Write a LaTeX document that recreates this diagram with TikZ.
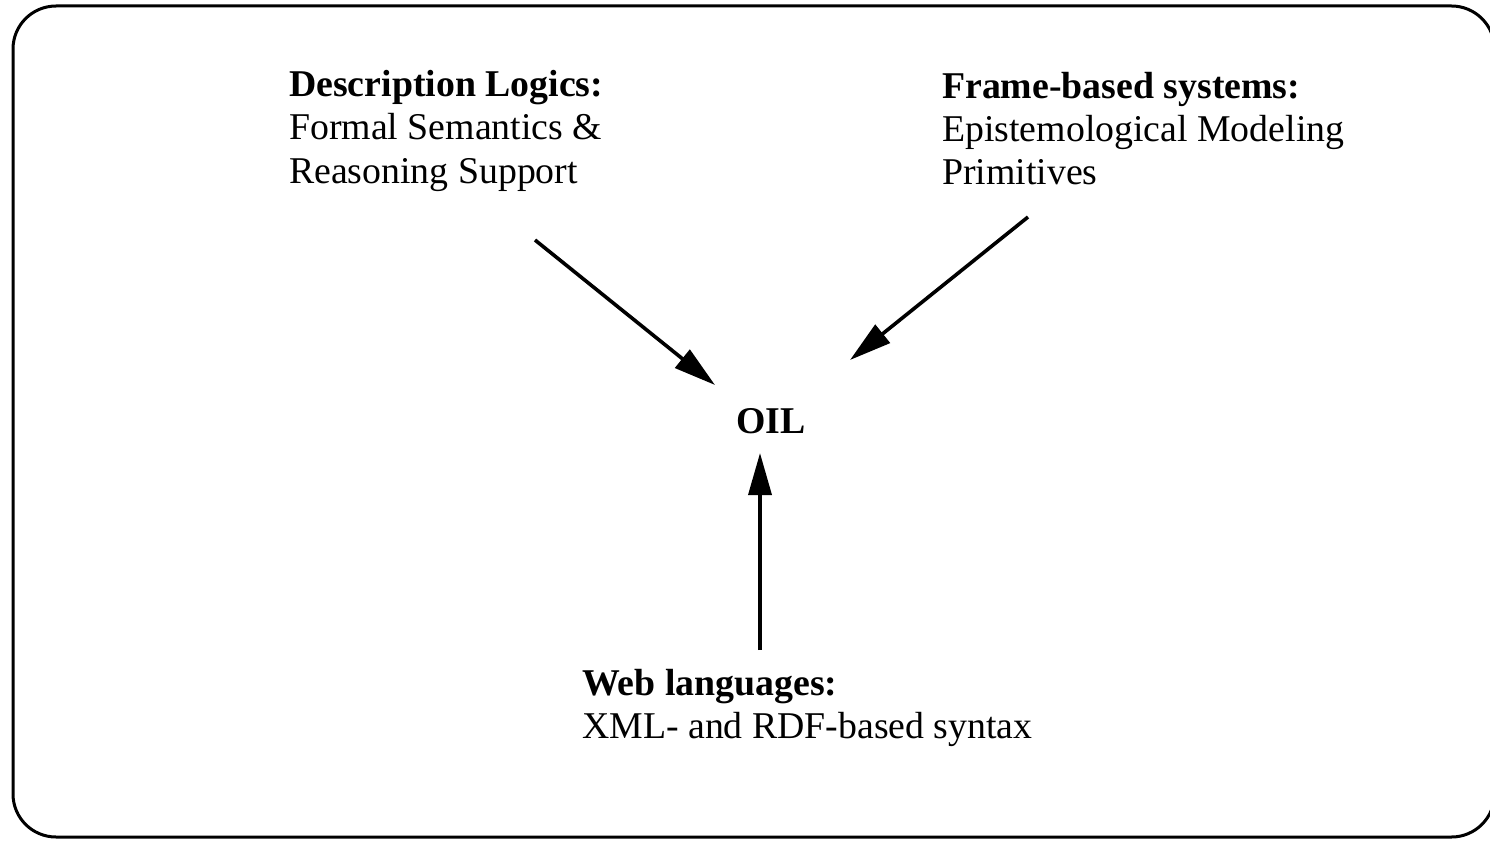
\documentclass[tikz,border=0pt]{standalone}
\usepackage{fontspec}
\setmainfont{Liberation Serif}
\usetikzlibrary{arrows.meta}

\tikzset{
  frame/.style={draw=black, line width=3pt, rounded corners=43pt},
  block/.style={anchor=base west, inner sep=0pt, font=\fontsize{37.8}{43}\selectfont},
  hub/.style={anchor=base, inner sep=0pt, font=\fontsize{37.8}{43}\selectfont\bfseries},
  feed/.style={draw=black, line width=3.6pt, -{Triangle[length=42pt,width=23pt]}}
}

\begin{document}
\begin{tikzpicture}[x=1pt, y=-1pt]
  \useasboundingbox (0,0) rectangle (1490,840);
  \begin{scope}
    \clip (0,0) rectangle (1490,840);
    \draw[frame] (13,6) rectangle (1494.5,837);
  \end{scope}

  % source blocks
  \node[block] (dl) at (289,97) {\begin{tabular}[t]{@{}l@{}}\textbf{Description Logics:}\\Formal Semantics \&\\Reasoning Support\end{tabular}};
  \node[block] (fb) at (942,99) {\begin{tabular}[t]{@{}l@{}}\textbf{Frame-based systems:}\\Epistemological Modeling\\Primitives\end{tabular}};
  \node[block] (web) at (582,695) {\begin{tabular}[t]{@{}l@{}}\textbf{Web languages:}\\XML- and RDF-based syntax\end{tabular}};

  % the combined language
  \node[hub] (oil) at (771,433) {OIL};

  % connector ends
  \coordinate (dl-tail) at (535,240);
  \coordinate (dl-head) at (715,385);
  \coordinate (fb-tail) at (1028,217);
  \coordinate (fb-head) at (850,360);
  \coordinate (web-tail) at (760,650);
  \coordinate (web-head) at (760,453);

  \draw[feed] (dl-tail) -- (dl-head);
  \draw[feed] (fb-tail) -- (fb-head);
  \draw[feed] (web-tail) -- (web-head);
\end{tikzpicture}
\end{document}
